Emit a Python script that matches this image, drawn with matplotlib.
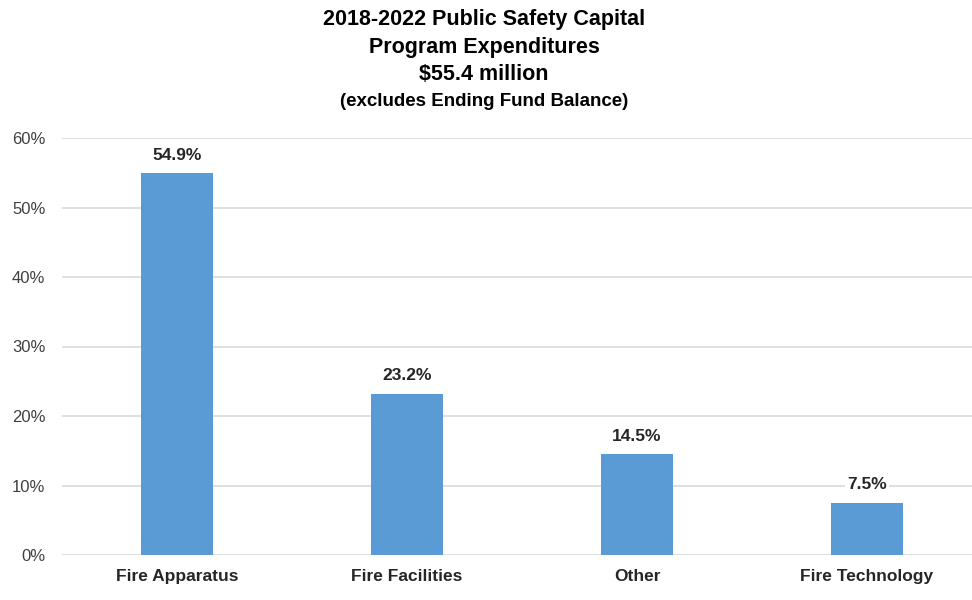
import matplotlib
matplotlib.use("Agg")
import matplotlib.pyplot as plt
from matplotlib.ticker import FuncFormatter

categories = ["Fire Apparatus", "Fire Facilities", "Other", "Fire Technology"]
values = [54.9, 23.2, 14.5, 7.5]
yticks = [0, 10, 20, 30, 40, 50, 60]

plt.rcParams['font.family'] = ['Liberation Sans', 'DejaVu Sans']

fig = plt.figure(figsize=(9.72, 6.0), dpi=100)
ax = fig.add_axes([62/972, 45/600, 920/972, 417/600])

x = list(range(len(categories)))
ax.bar(x, values, width=0.313, color="#5B9BD5", zorder=2)
ax.set_xlim(-0.5, len(categories) - 0.5)
ax.set_ylim(0, 60)
ax.set_yticks(yticks)
ax.yaxis.set_major_formatter(FuncFormatter(lambda v, p: f"{v:.0f}%"))
ax.grid(axis='y', color="#D9D9D9", linewidth=1.2, zorder=0)
ax.set_axisbelow(True)
for s in ax.spines.values():
    s.set_visible(False)
ax.tick_params(axis='y', length=0, labelsize=12, colors="#404040", pad=12)
ax.tick_params(axis='x', length=0, pad=10)
ax.set_xticks(x)
ax.set_xticklabels(categories, fontsize=12.5, fontweight='bold', color="#262626")

for xi, v in zip(x, values):
    ax.annotate(f"{v:.1f}%", (xi, v), xytext=(0, 7.5), textcoords='offset points',
                ha='center', va='bottom', fontsize=12.5, fontweight='bold', color="#262626",
                bbox=dict(facecolor='white', edgecolor='none', pad=1.5), zorder=3)

fig.text(0.498, 1 - 19/600, "2018-2022 Public Safety Capital", ha='center', va='center',
         fontsize=15.5, fontweight='bold', color="#000000")
fig.text(0.498, 1 - 47/600, "Program Expenditures", ha='center', va='center',
         fontsize=15.5, fontweight='bold', color="#000000")
fig.text(0.498, 1 - 75/600, "$55.4 million", ha='center', va='center',
         fontsize=15.5, fontweight='bold', color="#000000")
fig.text(0.498, 1 - 102/600, "(excludes Ending Fund Balance)", ha='center', va='center',
         fontsize=13.5, fontweight='bold', color="#000000")

fig.savefig("out.png", dpi=100)
